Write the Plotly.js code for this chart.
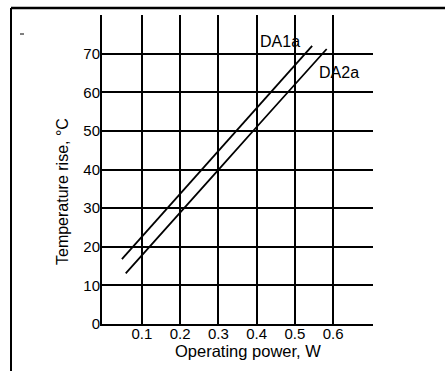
<!DOCTYPE html>
<html>
<head>
<meta charset="utf-8">
<script src="https://cdn.plot.ly/plotly-3.0.1.min.js"></script>
<style>
html,body{margin:0;padding:0;background:#fff;}
#chart{width:445px;height:371px;}
</style>
</head>
<body>
<div id="chart"></div>
<script>
// Data
const da1aPower = [0.048, 0.1, 0.2, 0.3, 0.4, 0.5, 0.545];
const da1aTemp  = [16.8, 22.6, 33.7, 44.8, 55.9, 67.0, 72.0];
const da2aPower = [0.058, 0.1, 0.2, 0.3, 0.4, 0.5, 0.583];
const da2aTemp  = [13.1, 17.8, 28.9, 39.9, 51.0, 62.0, 71.2];
const xTickVals = [0.1, 0.2, 0.3, 0.4, 0.5, 0.6];
const xTickText = ['0.1', '0.2', '0.3', '0.4', '0.5', '0.6'];
const yTickVals = [0, 10, 20, 30, 40, 50, 60, 70];
const yTickText = ['0', '10', '20', '30', '40', '50', '60', '70'];
const seriesNames = ['DA1a', 'DA2a'];

const FONT = '"Liberation Sans", Arial, Helvetica, sans-serif';

const traces = [
  {x: da1aPower, y: da1aTemp, name: seriesNames[0], mode: 'lines',
   line: {color: '#000', width: 1.8}, hoverinfo: 'skip'},
  {x: da2aPower, y: da2aTemp, name: seriesNames[1], mode: 'lines',
   line: {color: '#000', width: 1.8}, hoverinfo: 'skip'}
];

// pixel helpers for paper coords (plot area: l=102, t=15, w=271, h=309)
const L = 102, T = 15, W = 271, H = 309;
const px = v => (v - L) / W;
const py = v => (T + H - v) / H;

const layout = {
  width: 445, height: 371,
  margin: {l: L, r: 445 - L - W, t: T, b: 371 - T - H, pad: 0},
  paper_bgcolor: '#fff', plot_bgcolor: '#fff',
  showlegend: false,
  font: {family: FONT, color: '#000', size: 15},
  xaxis: {
    range: [-0.004, 0.704], tickvals: xTickVals, ticktext: xTickText,
    showgrid: true, gridcolor: '#000', gridwidth: 2,
    showline: true, linecolor: '#000', linewidth: 2,
    zeroline: false, ticks: '', tickfont: {size: 15, family: FONT, color: '#000'},
    ticklabelstandoff: -5,
    fixedrange: true
  },
  yaxis: {
    range: [0, 80], tickvals: yTickVals, ticktext: yTickText,
    showgrid: true, gridcolor: '#000', gridwidth: 2,
    showline: true, linecolor: '#000', linewidth: 2,
    zeroline: false, ticks: '', tickfont: {size: 15, family: FONT, color: '#000'},
    ticklabelstandoff: -3,
    fixedrange: true
  },
  annotations: [
    {text: 'Operating power, W', xref: 'paper', yref: 'paper',
     x: px(247.5), y: py(351), xanchor: 'center', yanchor: 'middle',
     showarrow: false, font: {size: 16.5, family: FONT, color: '#000'}},
    {text: 'Temperature rise, °C', xref: 'paper', yref: 'paper',
     x: px(62.5), y: py(191.5), xanchor: 'center', yanchor: 'middle',
     textangle: -90, showarrow: false, font: {size: 16, family: FONT, color: '#000'}},
    {text: seriesNames[0], xref: 'x', yref: 'y', x: 0.461, y: 73.1,
     xanchor: 'center', yanchor: 'middle', showarrow: false,
     font: {size: 16, family: FONT, color: '#000'}},
    {text: seriesNames[1], xref: 'x', yref: 'y', x: 0.616, y: 65.2,
     xanchor: 'center', yanchor: 'middle', showarrow: false,
     font: {size: 16, family: FONT, color: '#000'}}
  ],
  shapes: [
    {type: 'line', xref: 'paper', yref: 'paper', x0: px(11), x1: px(445), y0: py(8), y1: py(8),
     line: {color: '#000', width: 2.5}},
    {type: 'line', xref: 'paper', yref: 'paper', x0: px(11), x1: px(11), y0: py(8), y1: py(371),
     line: {color: '#000', width: 2}},
    {type: 'line', xref: 'paper', yref: 'paper', x0: px(20), x1: px(24), y0: py(34), y1: py(34),
     line: {color: '#000', width: 1}}
  ]
};

Plotly.newPlot('chart', traces, layout, {displayModeBar: false, staticPlot: true});
</script>
</body>
</html>
